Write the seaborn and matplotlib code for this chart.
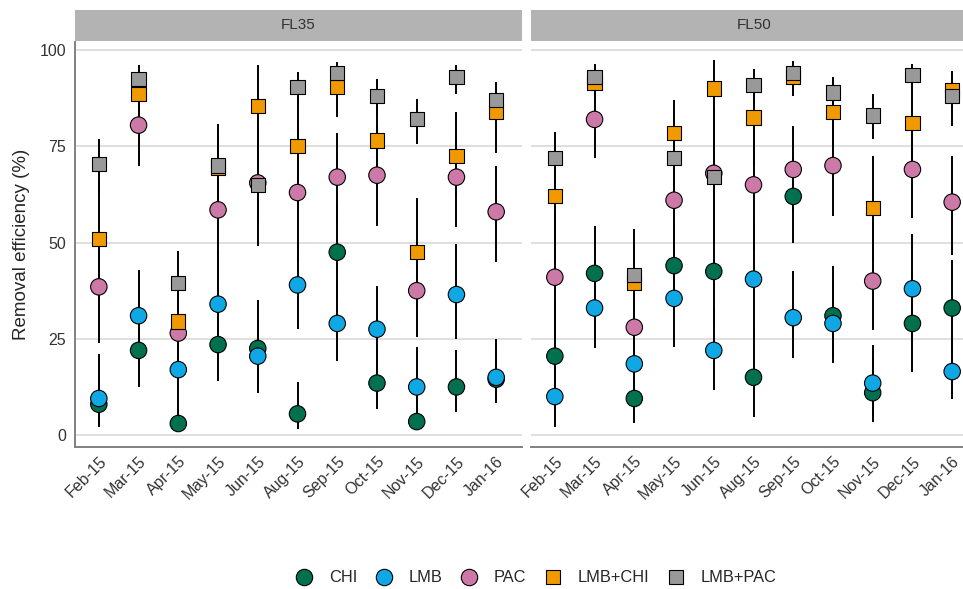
import matplotlib
matplotlib.use("Agg")
import matplotlib.pyplot as plt
from matplotlib.lines import Line2D
from matplotlib.patches import Rectangle
import pandas as pd
import seaborn as sns

# Categories
months = ["Feb-15", "Mar-15", "Apr-15", "May-15", "Jun-15", "Aug-15",
          "Sep-15", "Oct-15", "Nov-15", "Dec-15", "Jan-16"]
treatments = ["CHI", "LMB", "PAC", "LMB+CHI", "LMB+PAC"]
panels = ["FL35", "FL50"]

# FL35 removal efficiency (%): mean, lower and upper bounds
fl35_mean = {
    "CHI":     [8, 22, 3, 23.5, 22.5, 5.5, 47.5, 13.5, 3.5, 12.5, 14.5],
    "LMB":     [9.5, 31, 17, 34, 20.5, 39, 29, 27.5, 12.5, 36.5, 15],
    "PAC":     [38.5, 80.5, 26.5, 58.5, 65.5, 63, 67, 67.5, 37.5, 67, 58],
    "LMB+CHI": [51, 88.5, 29.5, 69.5, 85.5, 75, 90.5, 76.5, 47.5, 72.5, 84],
    "LMB+PAC": [70.5, 92.5, 39.5, 70, 65, 90.5, 94, 88, 82, 93, 87],
}
fl35_lo = {
    "CHI":     [2, 12.5, 1.3, 14, 13, 1.6, 35, 6.8, 1.3, 5.9, 8.2],
    "LMB":     [3, 20, 8, 20, 10.8, 27.5, 19.2, 17, 4, 25, 9],
    "PAC":     [24, 70, 18, 40, 49, 45, 55, 54.3, 25.5, 54, 45],
    "LMB+CHI": [35, 83, 22, 60, 75, 60, 82.5, 65, 33, 62, 73.2],
    "LMB+PAC": [63, 89, 32, 62, 55, 86, 91, 83, 75.5, 88.5, 82],
}
fl35_hi = {
    "CHI":     [15, 32, 8, 33, 35.2, 13.7, 60, 22, 10, 22, 22],
    "LMB":     [21, 43, 27, 48, 30, 50, 40, 38.7, 22.9, 49.5, 24.9],
    "PAC":     [52, 91, 35, 80.7, 80, 80, 78.5, 80, 50, 78, 70],
    "LMB+CHI": [66, 94, 38, 78, 96.1, 88, 96, 88, 61.6, 83.8, 90],
    "LMB+PAC": [77, 96, 47.8, 78, 75, 94.4, 97, 92.5, 87.4, 96.1, 91.8],
}

# FL50 removal efficiency (%): mean, lower and upper bounds
fl50_mean = {
    "CHI":     [20.5, 42, 9.5, 44, 42.5, 15, 62, 31, 11, 29, 33],
    "LMB":     [10, 33, 18.5, 35.5, 22, 40.5, 30.5, 29, 13.5, 38, 16.5],
    "PAC":     [41, 82, 28, 61, 68, 65, 69, 70, 40, 69, 60.5],
    "LMB+CHI": [62, 91.5, 39.5, 78.5, 90, 82.5, 93, 84, 59, 81, 89.5],
    "LMB+PAC": [72, 93, 41.5, 72, 67, 91, 94, 89, 83, 93.5, 88],
}
fl50_lo = {
    "CHI":     [8, 30, 3.2, 33, 28, 4.8, 50, 20, 3.5, 16.3, 22],
    "LMB":     [2.2, 22.5, 10, 23, 11.7, 25, 20.1, 18.6, 5, 25, 9.4],
    "PAC":     [25, 72, 18, 45, 50, 48, 58, 57, 27.3, 56.3, 46.9],
    "LMB+CHI": [45, 88, 30, 70, 80, 70, 88, 75, 45, 70, 85],
    "LMB+PAC": [65, 90, 33, 60, 50, 86, 90, 85, 76.8, 90, 80.3],
}
fl50_hi = {
    "CHI":     [35, 54.4, 16, 55, 57, 28, 72, 44, 20, 42, 45.6],
    "LMB":     [18, 45, 28, 48, 33, 55, 42.7, 40, 23.4, 52.2, 25],
    "PAC":     [58, 91, 38, 75, 85, 80, 80.3, 82, 55, 82, 72.5],
    "LMB+CHI": [75, 95, 49, 87, 97.4, 92, 96, 91, 72.5, 90, 94.6],
    "LMB+PAC": [78.6, 96.5, 53.4, 82, 82, 95, 97.2, 93, 88.6, 96.5, 93],
}

palette = {"CHI": "#00704E", "LMB": "#10A7E5", "PAC": "#CC79A7",
           "LMB+CHI": "#F09A00", "LMB+PAC": "#999999"}
markers = {"CHI": "o", "LMB": "o", "PAC": "o", "LMB+CHI": "s", "LMB+PAC": "s"}
sizes = {"CHI": 140, "LMB": 140, "PAC": 140, "LMB+CHI": 105, "LMB+PAC": 105}

# Long table, rows ordered by treatment so later treatments draw on top
rows = []
for panel, mean, lo, hi in [("FL35", fl35_mean, fl35_lo, fl35_hi),
                            ("FL50", fl50_mean, fl50_lo, fl50_hi)]:
    for t in treatments:
        for i, m in enumerate(months):
            rows.append({"panel": panel, "treatment": t, "month": m,
                         "mean": mean[t][i], "lo": lo[t][i], "hi": hi[t][i]})
df = pd.DataFrame(rows)

sns.set_style("white")
plt.rcParams["font.family"] = ["Liberation Sans", "DejaVu Sans"]

fig = plt.figure(figsize=(9.63, 5.89), dpi=100)
W, H = 963, 589
bottom = 1 - 447 / H
height = 405 / H
ax_left = fig.add_axes([75 / W, bottom, 447 / W, height])
ax_right = fig.add_axes([531 / W, bottom, 447 / W, height])

for ax, panel in zip([ax_left, ax_right], panels):
    sub = df[df["panel"] == panel]
    sns.scatterplot(data=sub, x="month", y="mean", hue="treatment",
                    style="treatment", size="treatment", palette=palette,
                    markers=markers, sizes=sizes, edgecolor="black",
                    linewidth=0.8, alpha=1, legend=False, zorder=3, ax=ax)
    ax.vlines(sub["month"], sub["lo"], sub["hi"], color="black",
              lw=1.4, zorder=2)

    ax.set_xlim(-0.6, 10.65)
    ax.set_ylim(-3.1, 102.1)
    ax.set_yticks([0, 25, 50, 75, 100])
    ax.set_xlabel("")
    ax.set_ylabel("")
    ax.yaxis.grid(True, color="#DCDCDC", lw=1.3)
    ax.xaxis.grid(False)
    ax.set_axisbelow(True)
    for s in ["top", "right"]:
        ax.spines[s].set_visible(False)
    ax.spines["bottom"].set_color("#808080")
    ax.spines["bottom"].set_linewidth(1.4)
    ax.spines["left"].set_color("#808080")
    ax.spines["left"].set_linewidth(1.4)
    ax.tick_params(length=0, labelsize=11.5, labelcolor="#333333")
    ax.tick_params(axis="y", pad=6.5)
    ax.tick_params(axis="x", pad=5)
    for lab in ax.get_xticklabels():
        lab.set_rotation(45)
        lab.set_ha("right")
        lab.set_va("top")
        lab.set_rotation_mode("anchor")

    # facet strip
    ax.add_patch(Rectangle((0, 1.003), 1, 31 / 405, transform=ax.transAxes,
                           clip_on=False, facecolor="#B3B3B3", edgecolor="none"))
    ax.text(0.5, 1.003 + 15.5 / 405, panel, transform=ax.transAxes,
            ha="center", va="center", fontsize=11, color="#333333")

ax_right.spines["left"].set_visible(False)
ax_right.tick_params(axis="y", labelleft=False)
ax_left.set_ylabel("Removal efficiency (%)", fontsize=13.5, labelpad=7)

handles = [Line2D([], [], marker=markers[t], linestyle="none",
                  markerfacecolor=palette[t], markeredgecolor="black",
                  markeredgewidth=0.8,
                  markersize=11.8 if markers[t] == "o" else 10.2)
           for t in treatments]
fig.legend(handles, treatments, loc="center", bbox_to_anchor=(0.556, 0.019),
           ncol=5, frameon=False, fontsize=11.8, handlelength=1.2,
           handletextpad=0.93, columnspacing=1.0)

fig.savefig("out.png", dpi=100)
